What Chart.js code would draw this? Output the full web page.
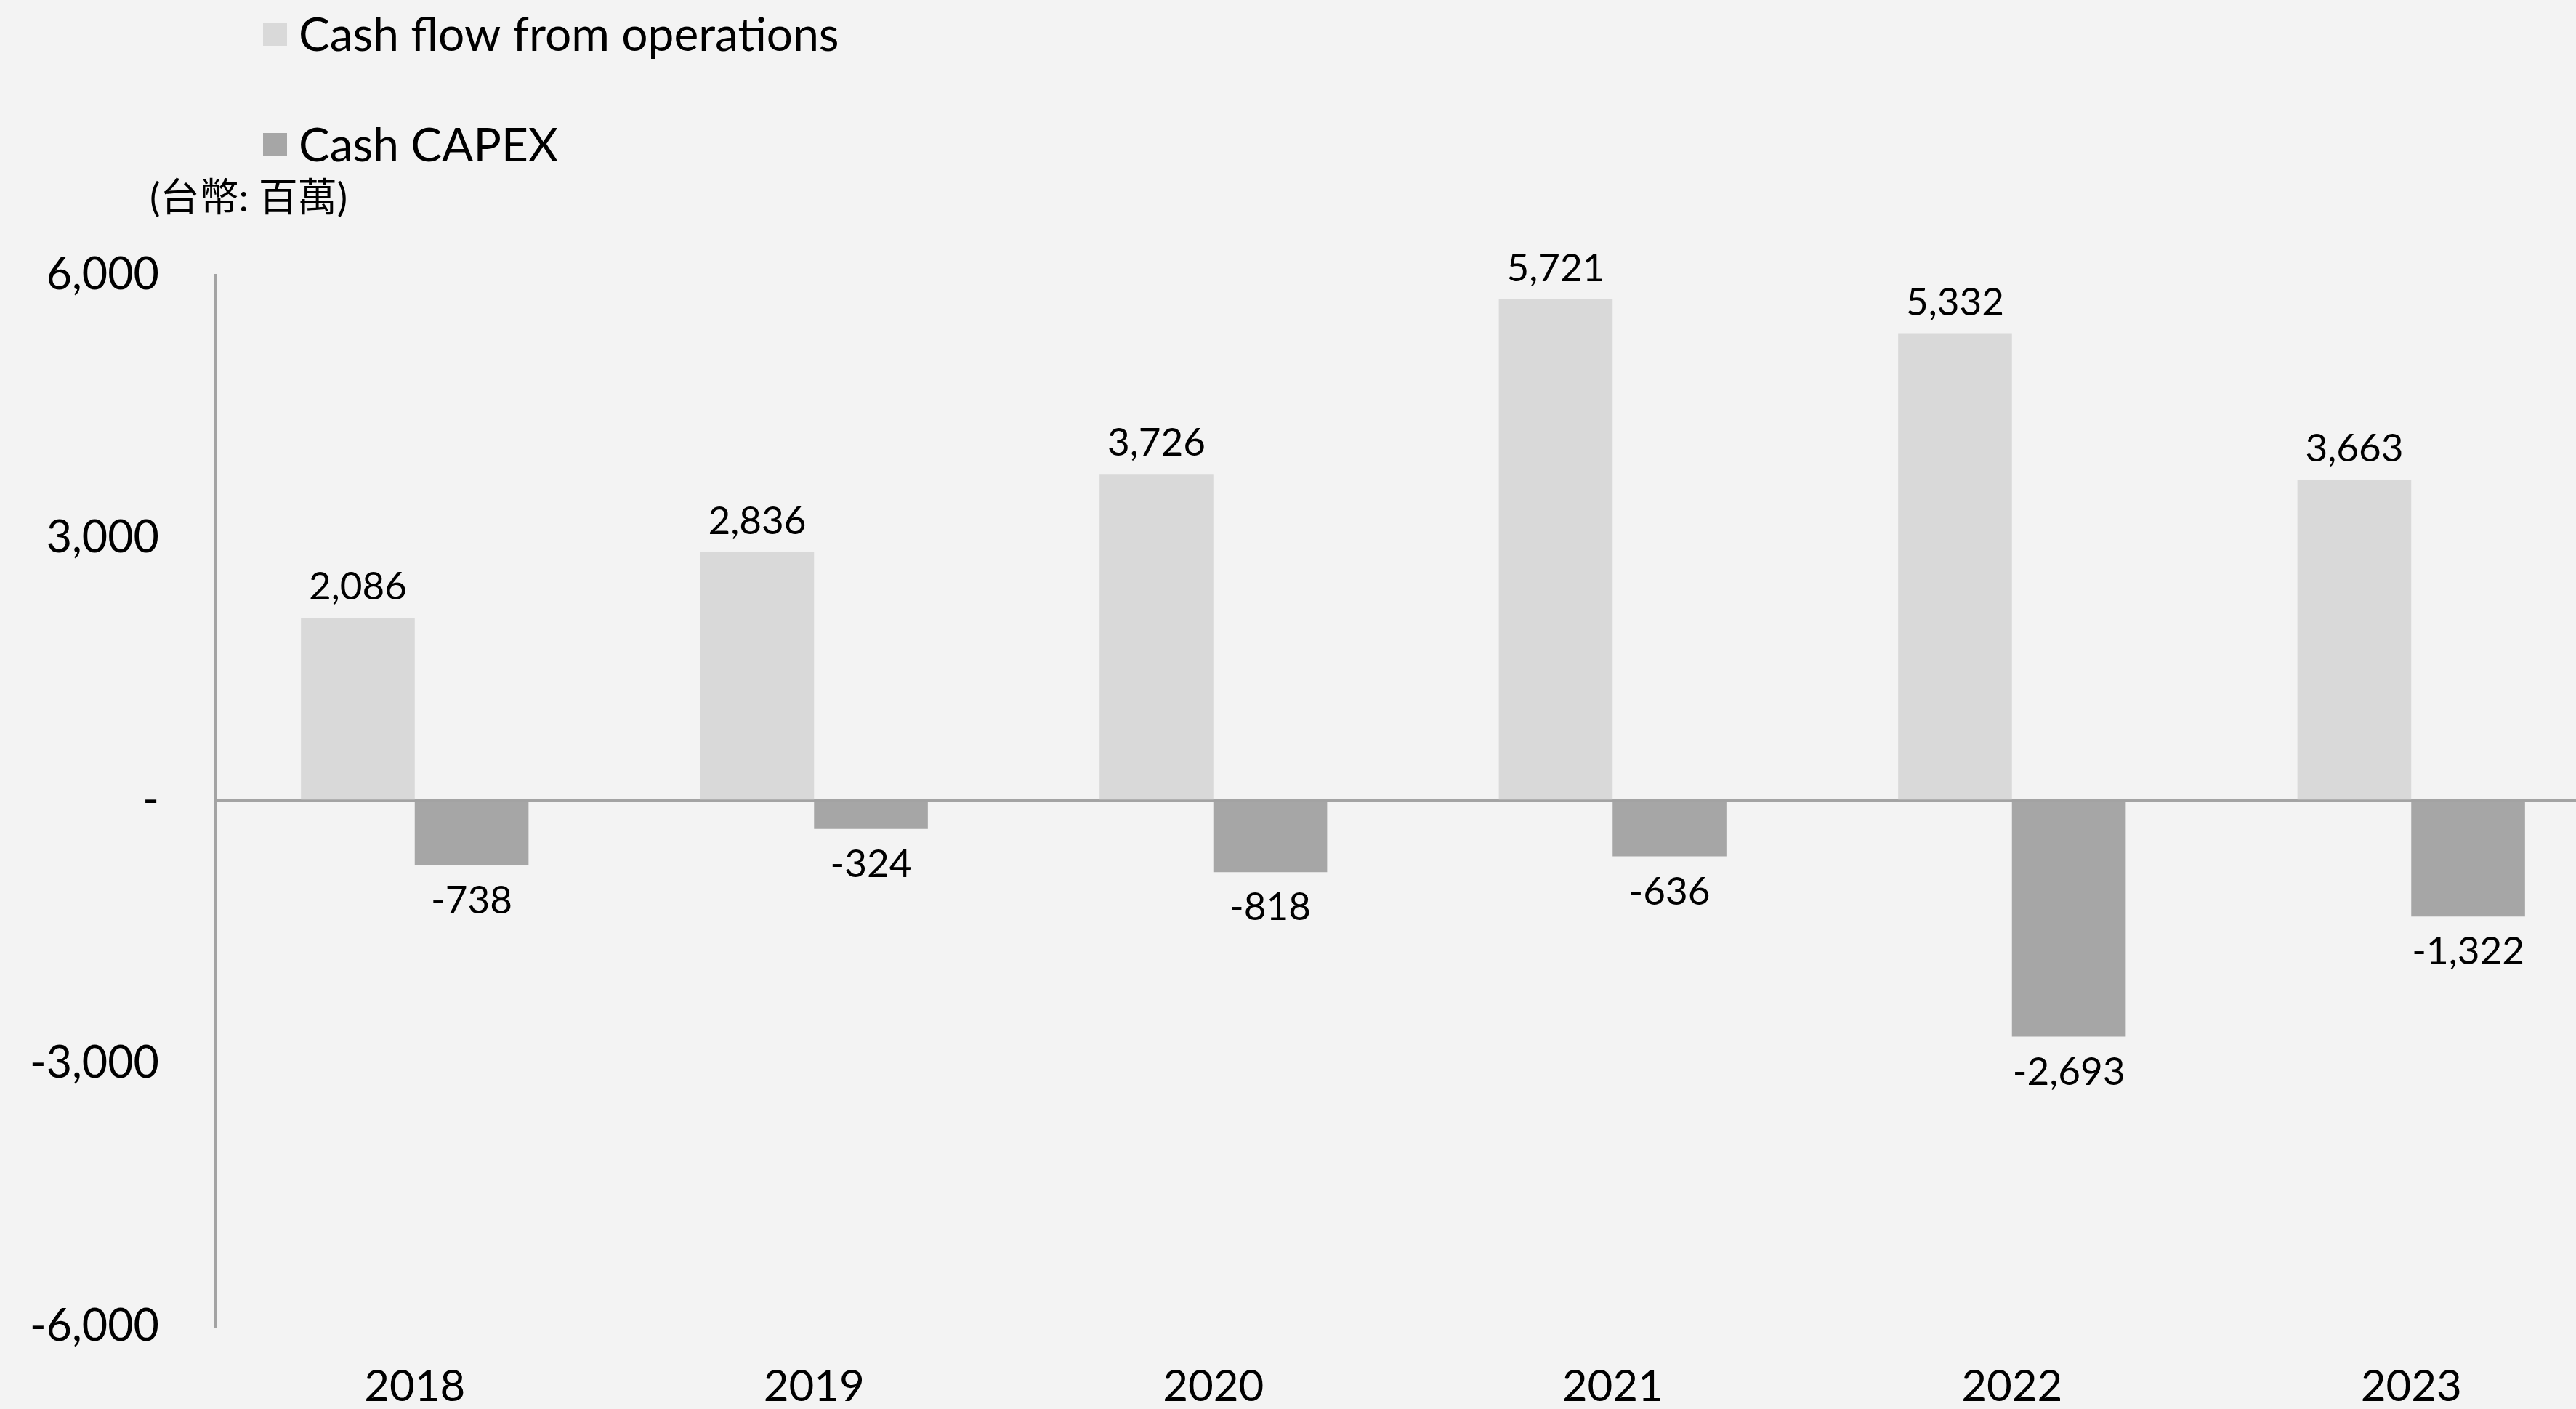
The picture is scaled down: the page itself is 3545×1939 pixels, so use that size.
<!DOCTYPE html>
<html>
<head>
<meta charset="utf-8">
<script src="https://cdn.jsdelivr.net/npm/chart.js@4.4.1/dist/chart.umd.min.js"></script>
<style>
  html, body { margin: 0; padding: 0; background: #f3f3f3; }
  canvas { display: block; }
</style>
</head>
<body>
<canvas id="chart" width="3545" height="1939"></canvas>
<script>
// data
var years = ['2018', '2019', '2020', '2021', '2022', '2023'];
var cashFlowOps = [2086, 2836, 3726, 5721, 5332, 3663];
var cashCapex = [-738, -324, -818, -636, -2693, -1322];
var seriesNames = ['Cash flow from operations', 'Cash CAPEX'];
var yTicks = [-6000, -3000, 0, 3000, 6000];
var unitLabel = '(台幣: 百萬)';

var FONT = 'Lato, "Noto Sans CJK TC", sans-serif';
var lineColor = '#a3a3a3';

var fmt = function(v) {
  return v === 0 ? '-' : v.toLocaleString('en-US');
};

// the original chart is cropped on the right: stretch the category axis a bit past the canvas
var stretchX = {
  id: 'stretchX',
  afterLayout: function(chart, args, opts) {
    var x = chart.scales.x;
    x.right = x.right + opts.extra;
    x.width = x.right - x.left;
    x.configure();
  }
};

// value labels above / below bars
var valueLabels = {
  id: 'valueLabels',
  afterDatasetsDraw: function(chart) {
    var ctx = chart.ctx;
    ctx.save();
    ctx.font = '53px ' + FONT;
    ctx.fillStyle = '#000';
    ctx.textAlign = 'center';
    ctx.textBaseline = 'middle';
    chart.data.datasets.forEach(function(ds, i) {
      chart.getDatasetMeta(i).data.forEach(function(bar, j) {
        var v = ds.data[j];
        var y = v >= 0 ? bar.y - 42 : bar.y + 49;
        ctx.fillText(fmt(v), bar.x, y);
      });
    });
    ctx.restore();
  }
};

// stacked legend + unit note at top left
var topLegend = {
  id: 'topLegend',
  afterDraw: function(chart) {
    var ctx = chart.ctx;
    var rows = [47, 199];
    ctx.save();
    ctx.textBaseline = 'middle';
    ctx.textAlign = 'left';
    chart.data.datasets.forEach(function(ds, i) {
      var cy = rows[i];
      ctx.fillStyle = ds.backgroundColor;
      ctx.fillRect(362, cy - 16, 33, 32);
      ctx.fillStyle = '#000';
      ctx.font = '64px ' + FONT;
      ctx.fillText(ds.label, 411, cy + 2);
    });
    ctx.font = '54px ' + FONT;
    ctx.fillText(unitLabel, 206, 274);
    ctx.restore();
  }
};

var chart = new Chart(document.getElementById('chart'), {
  type: 'bar',
  data: {
    labels: years,
    datasets: [
      { label: seriesNames[0], data: cashFlowOps, backgroundColor: '#d9d9d9' },
      { label: seriesNames[1], data: cashCapex, backgroundColor: '#a6a6a6' }
    ]
  },
  options: {
    responsive: false,
    devicePixelRatio: 1,
    animation: false,
    categoryPercentage: 0.57,
    barPercentage: 1.0,
    layout: { padding: { top: 378, left: 0, right: 0, bottom: 0 } },
    plugins: {
      legend: { display: false },
      tooltip: { enabled: false },
      stretchX: { extra: 48 }
    },
    scales: {
      x: {
        grid: { display: false, drawTicks: false },
        border: { display: false },
        ticks: {
          padding: 47,
          color: '#000',
          font: { family: FONT, size: 60 },
          maxRotation: 0,
          autoSkip: false
        },
        afterFit: function(s) { s.height = 112; }
      },
      y: {
        min: -6000,
        max: 6000,
        afterBuildTicks: function(s) {
          s.ticks = yTicks.map(function(v) { return { value: v }; });
        },
        ticks: {
          padding: 77,
          color: '#000',
          font: { family: FONT, size: 61 },
          callback: function(v) { return fmt(v); }
        },
        grid: {
          drawTicks: false,
          lineWidth: 3,
          color: function(c) {
            return c.tick && c.tick.value === 0 ? lineColor : 'rgba(0,0,0,0)';
          }
        },
        border: { display: true, color: lineColor, width: 3 },
        afterFit: function(s) { s.width = 296; }
      }
    }
  },
  plugins: [stretchX, valueLabels, topLegend]
});
</script>
</body>
</html>
